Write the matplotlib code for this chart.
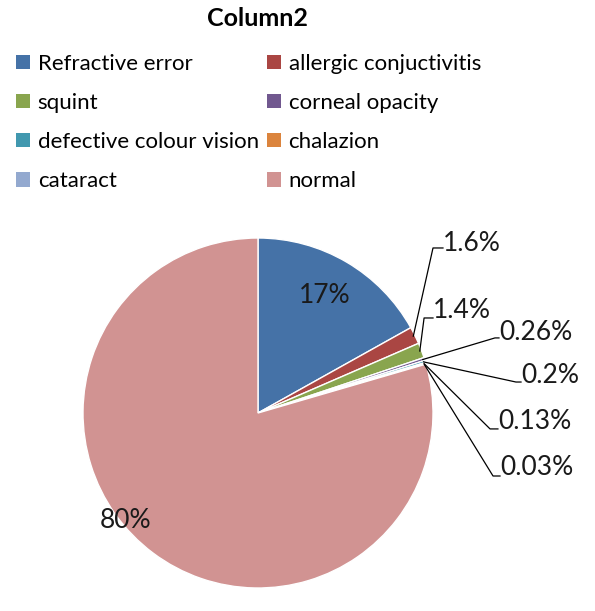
import matplotlib

matplotlib.use("Agg")
import matplotlib.pyplot as plt
import numpy as np

# Data
categories = [
    "Refractive error",
    "allergic conjuctivitis",
    "squint",
    "corneal opacity",
    "defective colour vision",
    "chalazion",
    "cataract",
    "normal",
]
values = [17, 1.6, 1.4, 0.26, 0.2, 0.13, 0.03, 80]
pct_labels = ["17%", "1.6%", "1.4%", "0.26%", "0.2%", "0.13%", "0.03%", "80%"]
colors = ["#4572A7", "#AA4643", "#89A54E", "#71588F", "#4198AF", "#DB843D", "#93A9CF", "#D19392"]

# Inside label positions (radius units)
inside = {0: (0.383, 0.669), 7: (-0.754, -0.617)}
# Outside label layout (radius units): elbow point and text start
outside = {
    1: ((1.0, 0.943), (1.057, 0.97)),
    2: ((0.949, 0.543), (1.0, 0.585)),
    3: ((1.354, 0.429), (1.377, 0.46)),
    4: ((1.474, 0.177), (1.503, 0.215)),
    5: ((1.326, -0.091), (1.371, -0.05)),
    6: ((1.343, -0.36), (1.383, -0.31)),
}

plt.rcParams["font.family"] = ["Lato", "DejaVu Sans"]

fig = plt.figure(figsize=(5.95, 6.11), dpi=100)
W, H = 595, 611
cx, cy, r = 258, 413, 175
ax = fig.add_axes([(cx - r) / W, (H - cy - r) / H, 2 * r / W, 2 * r / H])

wedges, _ = ax.pie(
    values,
    colors=colors,
    startangle=90,
    counterclock=False,
    radius=1,
    wedgeprops={"edgecolor": "white", "linewidth": 1},
)
ax.set_xlim(-1, 1)
ax.set_ylim(-1, 1)
ax.set_aspect("equal")
ax.axis("off")

# inside labels
for i, (tx, ty) in inside.items():
    ax.text(tx, ty, pct_labels[i], ha="center", va="center",
            fontsize=19, color="#1a1a1a")

# outside labels with leader lines
for i, (elbow, txt) in outside.items():
    w = wedges[i]
    mid = np.deg2rad((w.theta1 + w.theta2) / 2)
    sx, sy = 0.99 * np.cos(mid), 0.99 * np.sin(mid)
    ax.plot([sx, elbow[0], txt[0]], [sy, elbow[1], elbow[1]],
            color="black", linewidth=0.9, clip_on=False)
    ax.text(txt[0], txt[1], pct_labels[i], ha="left", va="center",
            fontsize=19, color="#1a1a1a", clip_on=False)

fig.text(257 / W, 1 - 18 / H, "Column2", ha="center", va="center",
         fontsize=18, fontweight="bold")

# legend filled row by row
order = [0, 2, 4, 6, 1, 3, 5, 7]
leg = fig.legend(
    [wedges[i] for i in order],
    [categories[i] for i in order],
    ncol=2,
    loc="upper left",
    bbox_to_anchor=(7 / W, 1 - 45 / H),
    frameon=False,
    fontsize=16,
    handlelength=0.62,
    handleheight=0.62,
    handletextpad=0.36,
    columnspacing=0.36,
    labelspacing=0.86,
    borderaxespad=0,
)
for h in leg.legend_handles:
    h.set_edgecolor("none")

plt.savefig("out.png", dpi=100)
